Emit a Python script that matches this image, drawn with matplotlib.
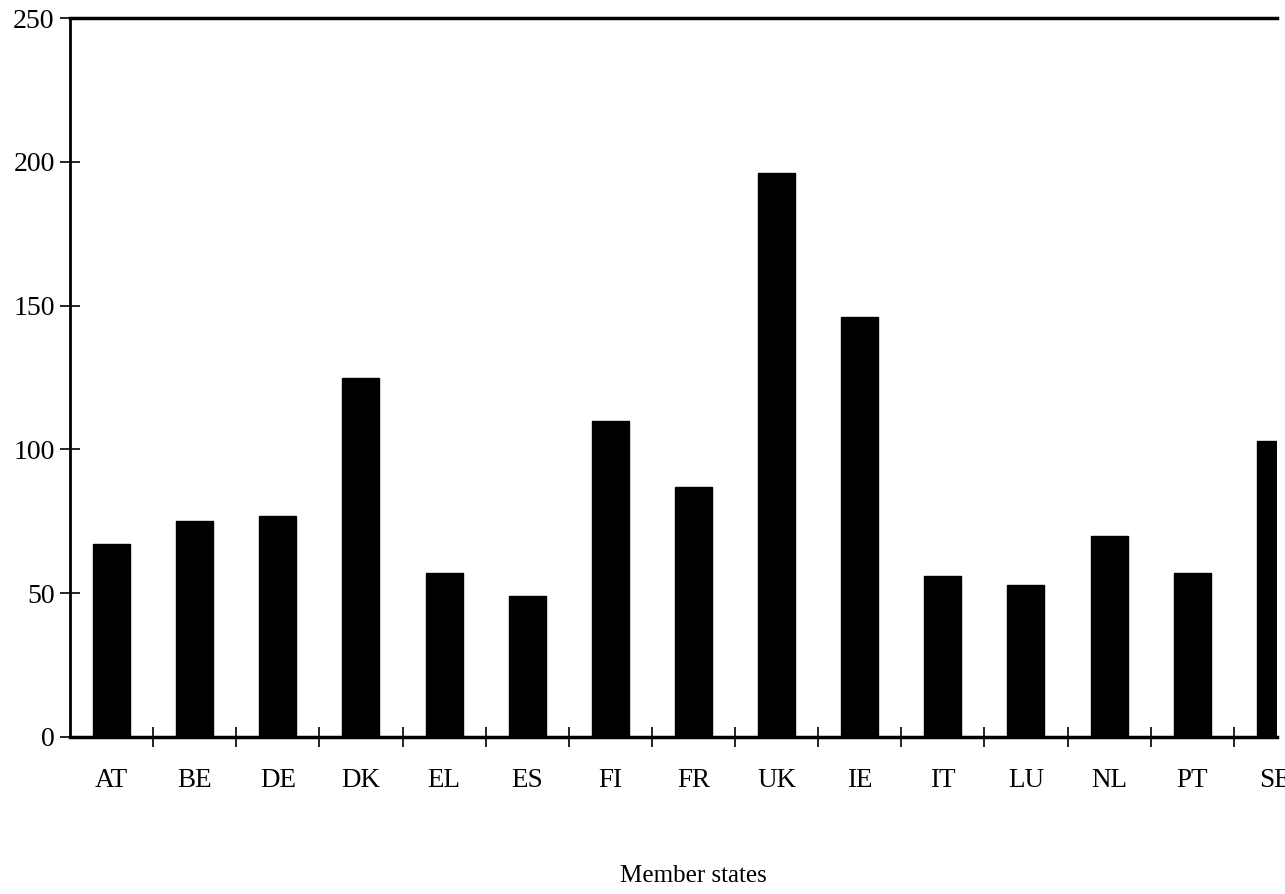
import matplotlib
matplotlib.use("Agg")
import matplotlib.pyplot as plt
import numpy as np

# member states and values
states = ["AT", "BE", "DE", "DK", "EL", "ES", "FI", "FR", "UK", "IE", "IT", "LU", "NL", "PT", "SE"]
values = [67, 75, 77, 125, 57, 49, 110, 87, 196, 146, 56, 53, 70, 57, 103]
yticks = [0, 50, 100, 150, 200, 250]

plt.rcParams["font.family"] = ["Liberation Serif", "DejaVu Serif"]

fig = plt.figure(figsize=(12.85, 8.94), dpi=100)
ax = fig.add_axes([70 / 1285., 1 - 737 / 894., (1277 - 70) / 1285., (737 - 18) / 894.])

x = np.arange(len(states))
ax.bar(x, values, width=0.445, color="black", edgecolor="black")

ax.set_yticks(yticks)
ax.set_yticklabels([str(v) for v in yticks], fontsize=20)

# category labels at centres, tick marks at the boundaries
ax.set_xticks(x)
ax.set_xticklabels(states, fontsize=19.5)
ax.tick_params(axis="x", which="major", length=0, pad=22)
ax.set_xticks(np.arange(len(states)) + 0.5, minor=True)
ax.tick_params(axis="x", which="minor", direction="inout", length=14, width=1.2)
ax.tick_params(axis="y", direction="inout", length=14, width=1.2, pad=4)

# limits after the ticks, so the minor ticks don't widen the view
ax.set_xlim(-0.5, 14.02)
ax.set_ylim(0, 250)

for side in ["left", "top", "bottom"]:
    ax.spines[side].set_color("black")
ax.spines["left"].set_linewidth(2)
ax.spines["top"].set_linewidth(2.5)
ax.spines["bottom"].set_linewidth(2.5)
ax.spines["right"].set_visible(False)

ax.text(7.0, -48.5, "Member states", fontsize=18, ha="center", va="center",
        transform=ax.transData, clip_on=False)

fig.savefig("out.png", dpi=100)
